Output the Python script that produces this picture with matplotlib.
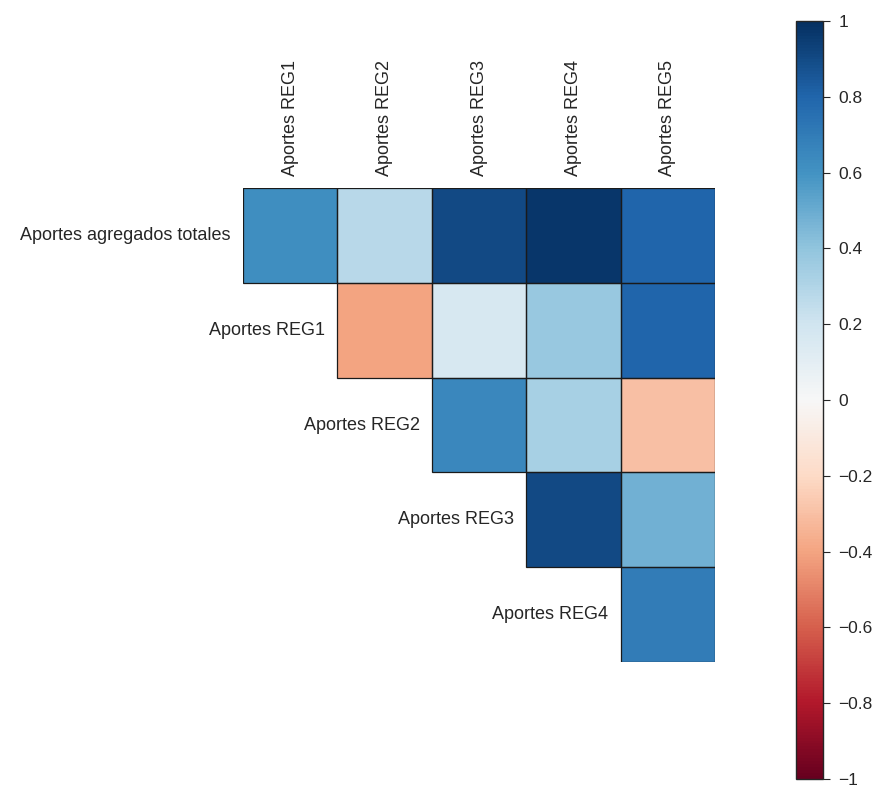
import numpy as np
import matplotlib
matplotlib.use("Agg")
import matplotlib.pyplot as plt
from matplotlib.colors import Normalize
from matplotlib.patches import Rectangle

plt.rcParams['font.family'] = ['Liberation Sans', 'DejaVu Sans']

col_labels = ["Aportes REG1", "Aportes REG2", "Aportes REG3", "Aportes REG4", "Aportes REG5"]
row_labels = ["Aportes agregados totales", "Aportes REG1", "Aportes REG2",
              "Aportes REG3", "Aportes REG4"]

# Upper-triangular correlation values (row i, columns i..4)
row_total = [0.62, 0.28, 0.90, 0.97, 0.80]
row_reg1 = [-0.40, 0.17, 0.38, 0.80]
row_reg2 = [0.65, 0.33, -0.30]
row_reg3 = [0.90, 0.48]
row_reg4 = [0.70]

rows = [row_total, row_reg1, row_reg2, row_reg3, row_reg4]
n = len(col_labels)
mat = np.full((n, n), np.nan)
for i, r in enumerate(rows):
    mat[i, i:i + len(r)] = r
data = np.ma.masked_invalid(mat)

fig = plt.figure(figsize=(8.75, 7.85), dpi=100)
ax = fig.add_axes([243 / 875, 1 - 662 / 785, 472 / 875, 474 / 785])
cax = fig.add_axes([796 / 875, 1 - 779 / 785, 27 / 875, 758 / 785])

norm = Normalize(vmin=-1, vmax=1)
cmap = plt.get_cmap("RdBu")
mesh = ax.pcolormesh(np.arange(n + 1), np.arange(n + 1), data, cmap=cmap, norm=norm,
                     edgecolors="none")
# Outline only the filled cells
for i in range(n):
    for j in range(n):
        if not np.isnan(mat[i, j]):
            ax.add_patch(Rectangle((j, i), 1, 1, facecolor="none",
                                   edgecolor="#1a1a1a", linewidth=0.9))
ax.set_xlim(0, n)
ax.set_ylim(n, 0)
ax.set_aspect("auto")

for s in ax.spines.values():
    s.set_visible(False)

ax.xaxis.tick_top()
ax.set_xticks(np.arange(n) + 0.5)
ax.set_xticklabels(col_labels, rotation=90, fontsize=13, color="#262626")
ax.tick_params(axis="x", length=0, pad=9)
ax.set_yticks([])

# Row labels sit just left of the first cell of each row
for i, lab in enumerate(row_labels):
    ax.text(i - 0.13, i + 0.5, lab, ha="right", va="center", fontsize=13, color="#262626")

cb = fig.colorbar(mesh, cax=cax)
cb.set_ticks([1, 0.8, 0.6, 0.4, 0.2, 0, -0.2, -0.4, -0.6, -0.8, -1])
cb.set_ticklabels(["1", "0.8", "0.6", "0.4", "0.2", "0", "\u22120.2", "\u22120.4",
                   "\u22120.6", "\u22120.8", "\u22121"])
cax.tick_params(labelsize=12.5, length=5, width=0.8, color="#262626", labelcolor="#262626", pad=6)
cb.outline.set_edgecolor("#262626")
cb.outline.set_linewidth(1.0)

fig.savefig("out.png", dpi=100, facecolor="white")
